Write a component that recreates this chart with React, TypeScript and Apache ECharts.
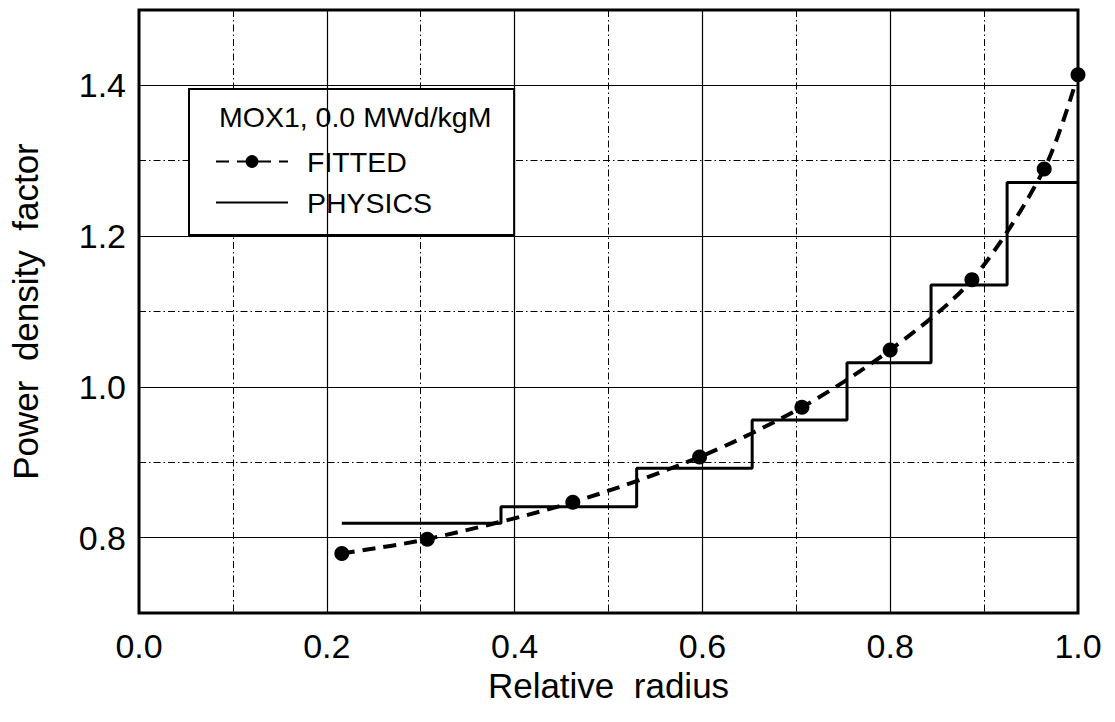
import React, { useEffect, useRef } from "react";
import * as echarts from "echarts";

// FITTED curve points (relative radius, power density factor)
const fittedX = [0.216, 0.307, 0.462, 0.597, 0.706, 0.8, 0.887, 0.964, 1.0];
const fittedY = [0.779, 0.798, 0.847, 0.907, 0.973, 1.049, 1.142, 1.289, 1.414];

// PHYSICS step profile: ring edges and the level inside each ring
const physicsEdges = [0.216, 0.3855, 0.53, 0.653, 0.754, 0.8435, 0.9245, 1.0];
const physicsLevels = [0.819, 0.841, 0.892, 0.956, 1.032, 1.135, 1.271];

// major (solid) grid lines; minor lines come from the axes' split lines
const xMajorGrid = [0.2, 0.4, 0.6, 0.8];
const yMajorGrid = [0.8, 1.0, 1.2, 1.4];

const legendTitle = "MOX1, 0.0 MWd/kgM";
const xTitle = "Relative  radius";
const yTitle = "Power  density  factor";

const FONT = "'Liberation Sans', Arial, Helvetica, sans-serif";

export default function App() {
  const ref = useRef<HTMLDivElement>(null);

  useEffect(() => {
    if (!ref.current) return;
    const chart = echarts.init(ref.current, undefined, { renderer: "svg" });

    const fittedData = fittedX.map((x, i) => [x, fittedY[i]]);
    const physicsData = physicsEdges.map((x, i) => [
      x,
      physicsLevels[Math.min(i, physicsLevels.length - 1)],
    ]);

    const evenTenth = (v: number) => Math.round(v * 10) % 2 === 0;

    chart.setOption({
      animation: false,
      backgroundColor: "#fff",
      textStyle: { fontFamily: FONT },
      grid: {
        left: 137,
        right: 37,
        top: 10,
        bottom: 109,
        show: true,
        borderColor: "#000",
        borderWidth: 3,
        backgroundColor: "transparent",
      },
      xAxis: {
        type: "value",
        min: 0,
        max: 1,
        interval: 0.1,
        axisLine: { show: false },
        axisTick: { show: false },
        axisLabel: {
          fontSize: 34,
          color: "#000",
          fontFamily: FONT,
          margin: 16,
          formatter: (v: number) => (evenTenth(v) ? v.toFixed(1) : ""),
        },
        splitLine: {
          show: true,
          lineStyle: { color: "#000", width: 1, type: [7, 3, 1.5, 3] },
        },
        name: xTitle,
        nameLocation: "middle",
        nameGap: 55,
        nameTextStyle: { fontSize: 35, color: "#000", fontFamily: FONT },
      },
      yAxis: {
        type: "value",
        min: 0.7,
        max: 1.5,
        interval: 0.1,
        axisLine: { show: false },
        axisTick: { show: false },
        axisLabel: {
          fontSize: 34,
          color: "#000",
          fontFamily: FONT,
          margin: 13,
          formatter: (v: number) => (evenTenth(v) ? v.toFixed(1) : ""),
        },
        splitLine: {
          show: true,
          lineStyle: { color: "#000", width: 1, type: [7, 3, 1.5, 3] },
        },
        name: yTitle,
        nameLocation: "middle",
        nameGap: 96,
        nameRotate: 90,
        nameTextStyle: { fontSize: 35, color: "#000", fontFamily: FONT },
      },
      legend: {
        data: [
          { name: "FITTED" },
          { name: "PHYSICS", itemStyle: { opacity: 0 } },
        ],
        orient: "vertical",
        left: 189,
        top: 89,
        padding: [58, 82, 18, 26],
        itemWidth: 72,
        itemHeight: 16,
        itemGap: 12,
        borderColor: "#000",
        borderWidth: 2,
        backgroundColor: "#fff",
        selectedMode: false,
        textStyle: {
          fontSize: 28.5,
          lineHeight: 29,
          color: "#000",
          fontFamily: FONT,
          padding: [0, 0, 0, 14],
        },
      },
      graphic: [
        {
          type: "text",
          left: 219,
          top: 102,
          z: 100,
          style: {
            text: legendTitle,
            fontSize: 28.5,
            fill: "#000",
            fontFamily: FONT,
          },
        },
      ],
      series: [
        {
          name: "PHYSICS",
          type: "line",
          step: "end",
          data: physicsData,
          symbol: "none",
          lineStyle: { color: "#000", width: 3, type: "solid" },
          itemStyle: { color: "#000" },
          z: 3,
          markLine: {
            silent: true,
            symbol: ["none", "none"],
            label: { show: false },
            lineStyle: { color: "#000", width: 1.2, type: "solid" },
            emphasis: { disabled: true },
            data: [
              ...xMajorGrid.map((v) => ({ xAxis: v })),
              ...yMajorGrid.map((v) => ({ yAxis: v })),
            ],
          },
        },
        {
          name: "FITTED",
          type: "line",
          data: fittedData,
          smooth: 0.3,
          symbol: "circle",
          symbolSize: 15,
          itemStyle: { color: "#000" },
          lineStyle: { color: "#000", width: 4, type: [13, 8] },
          z: 4,
        },
      ],
    });

    return () => chart.dispose();
  }, []);

  return <div ref={ref} style={{ width: 1115, height: 722, margin: -8 }} />;
}
